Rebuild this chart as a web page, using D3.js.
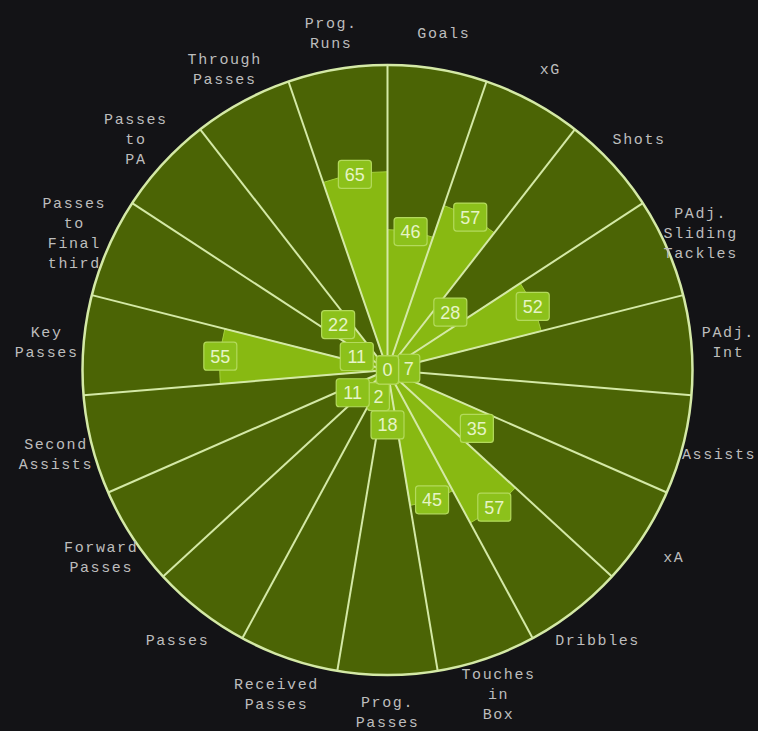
<!DOCTYPE html>
<html>
<head>
<meta charset="utf-8">
<script src="https://cdn.jsdelivr.net/npm/d3@7"></script>
<style>
    html, body {margin: 0; padding: 0; background: #131316;}
    svg {display: block;}
</style>
</head>
<body>
<div id="chart"></div>
<script>
// chart data
const categories = [
    "Goals", "xG", "Shots", "PAdj. Sliding Tackles", "PAdj. Int", "Assists", "xA",
    "Dribbles", "Touches in Box", "Prog. Passes", "Received Passes", "Passes",
    "Forward Passes", "Second Assists", "Key Passes", "Passes to Final third",
    "Passes to PA", "Through Passes", "Prog. Runs"
];
const percentiles = [46, 57, 28, 52, 7, 0, 35, 57, 45, 18, 2, 0, 11, 0, 55, 11, 22, 0, 65];
const radialTicks = [0, 100];

function pizza() {
    // chart size defaults
    let width = 758;
    let height = 731;
    let center = {x: 387.5, y: 370};
    let radius = 305;
    let labelRadius = 342;

    // colours
    let bgFill = "#4b6405";
    let barFill = "#88b912";
    let lineColor = "#d4e9a6";
    let textColor = "#bdbdbd";

    function chart(selection) {
        selection.each(function() {
            const n = categories.length;
            const step = 2 * Math.PI / n;

            const rScale = d3.scaleLinear()
                .domain(d3.extent(radialTicks))
                .range([0, radius]);

            const svg = d3.select(this).append("svg")
                .attr("width", width)
                .attr("height", height)
                .style("background", "#131316");

            const g = svg.append("g")
                .attr("transform", "translate(" + center.x + "," + center.y + ")");

            const arc = d3.arc().innerRadius(0);

            // full background slices
            g.selectAll(".slice").data(categories).enter()
                .append("path")
                    .attr("class", "slice")
                    .attr("d", function(d, i) {
                        return arc({outerRadius: rScale(100), startAngle: i * step, endAngle: (i + 1) * step});
                    })
                    .attr("fill", bgFill);

            // value bars
            g.selectAll(".bar").data(percentiles).enter()
                .append("path")
                    .attr("class", "bar")
                    .attr("d", function(d, i) {
                        return arc({outerRadius: rScale(d), startAngle: i * step, endAngle: (i + 1) * step});
                    })
                    .attr("fill", barFill)
                    .attr("stroke", "#a3cf3c")
                    .attr("stroke-width", d => d > 0 ? 1 : 0);

            // separators between slices
            g.selectAll(".sep").data(categories).enter()
                .append("line")
                    .attr("class", "sep")
                    .attr("x1", 0).attr("y1", 0)
                    .attr("x2", (d, i) => rScale(100) * Math.sin(i * step))
                    .attr("y2", (d, i) => -rScale(100) * Math.cos(i * step))
                    .attr("stroke", lineColor)
                    .attr("stroke-width", 2);

            // outer ring
            g.append("circle")
                .attr("r", rScale(100))
                .attr("fill", "none")
                .attr("stroke", lineColor)
                .attr("stroke-width", 2.5);

            // category labels, one word per line
            const cat = g.selectAll(".cat").data(categories).enter()
                .append("text")
                    .attr("class", "cat")
                    .attr("transform", function(d, i) {
                        const a = (i + 0.5) * step;
                        return "translate(" + (labelRadius * Math.sin(a)) + "," + (-labelRadius * Math.cos(a)) + ")";
                    })
                    .attr("text-anchor", "middle")
                    .attr("fill", textColor)
                    .style("font-family", "'Liberation Mono', 'DejaVu Sans Mono', monospace")
                    .style("font-size", "15px")
                    .style("letter-spacing", "1.6px");

            cat.each(function(d) {
                const words = d.split(" ");
                const lineH = 20;
                const t = d3.select(this);
                words.forEach(function(w, k) {
                    t.append("tspan")
                        .attr("x", 0)
                        .attr("y", (k - (words.length - 1) / 2) * lineH)
                        .attr("dy", "0.35em")
                        .text(w);
                });
            });

            // value labels, pushed outward along their slice when they collide
            const boxH = 28;
            const placed = [];
            const labels = percentiles.map(function(v, i) {
                const a = (i + 0.5) * step;
                const w = String(v).length * 11 + 11;
                let r = rScale(v);
                let x = r * Math.sin(a), y = -r * Math.cos(a);
                const hits = function() {
                    return placed.some(function(p) {
                        return Math.abs(p.x - x) < (p.w + w) / 2 - 2 && Math.abs(p.y - y) < boxH - 2;
                    });
                };
                if (v > 0) {
                    while (hits() && r < radius) {
                        r += 1;
                        x = r * Math.sin(a);
                        y = -r * Math.cos(a);
                    }
                }
                const lab = {v: v, x: x, y: y, w: w};
                placed.push(lab);
                return lab;
            });

            const vl = g.selectAll(".val").data(labels).enter()
                .append("g")
                    .attr("class", "val")
                    .attr("transform", d => "translate(" + d.x + "," + d.y + ")");

            vl.append("rect")
                .attr("x", d => -d.w / 2)
                .attr("y", -boxH / 2)
                .attr("width", d => d.w)
                .attr("height", boxH)
                .attr("rx", 3)
                .attr("fill", "#8cc11b")
                .attr("stroke", "#b3da5c")
                .attr("stroke-width", 1.2);

            vl.append("text")
                .attr("text-anchor", "middle")
                .attr("dy", "0.36em")
                .attr("fill", "#e6f4c6")
                .style("font-family", "'Liberation Sans', Arial, sans-serif")
                .style("font-size", "18px")
                .text(d => d.v);
        });
    }

    return chart;
}

d3.select("#chart").call(pizza());
</script>
</body>
</html>
